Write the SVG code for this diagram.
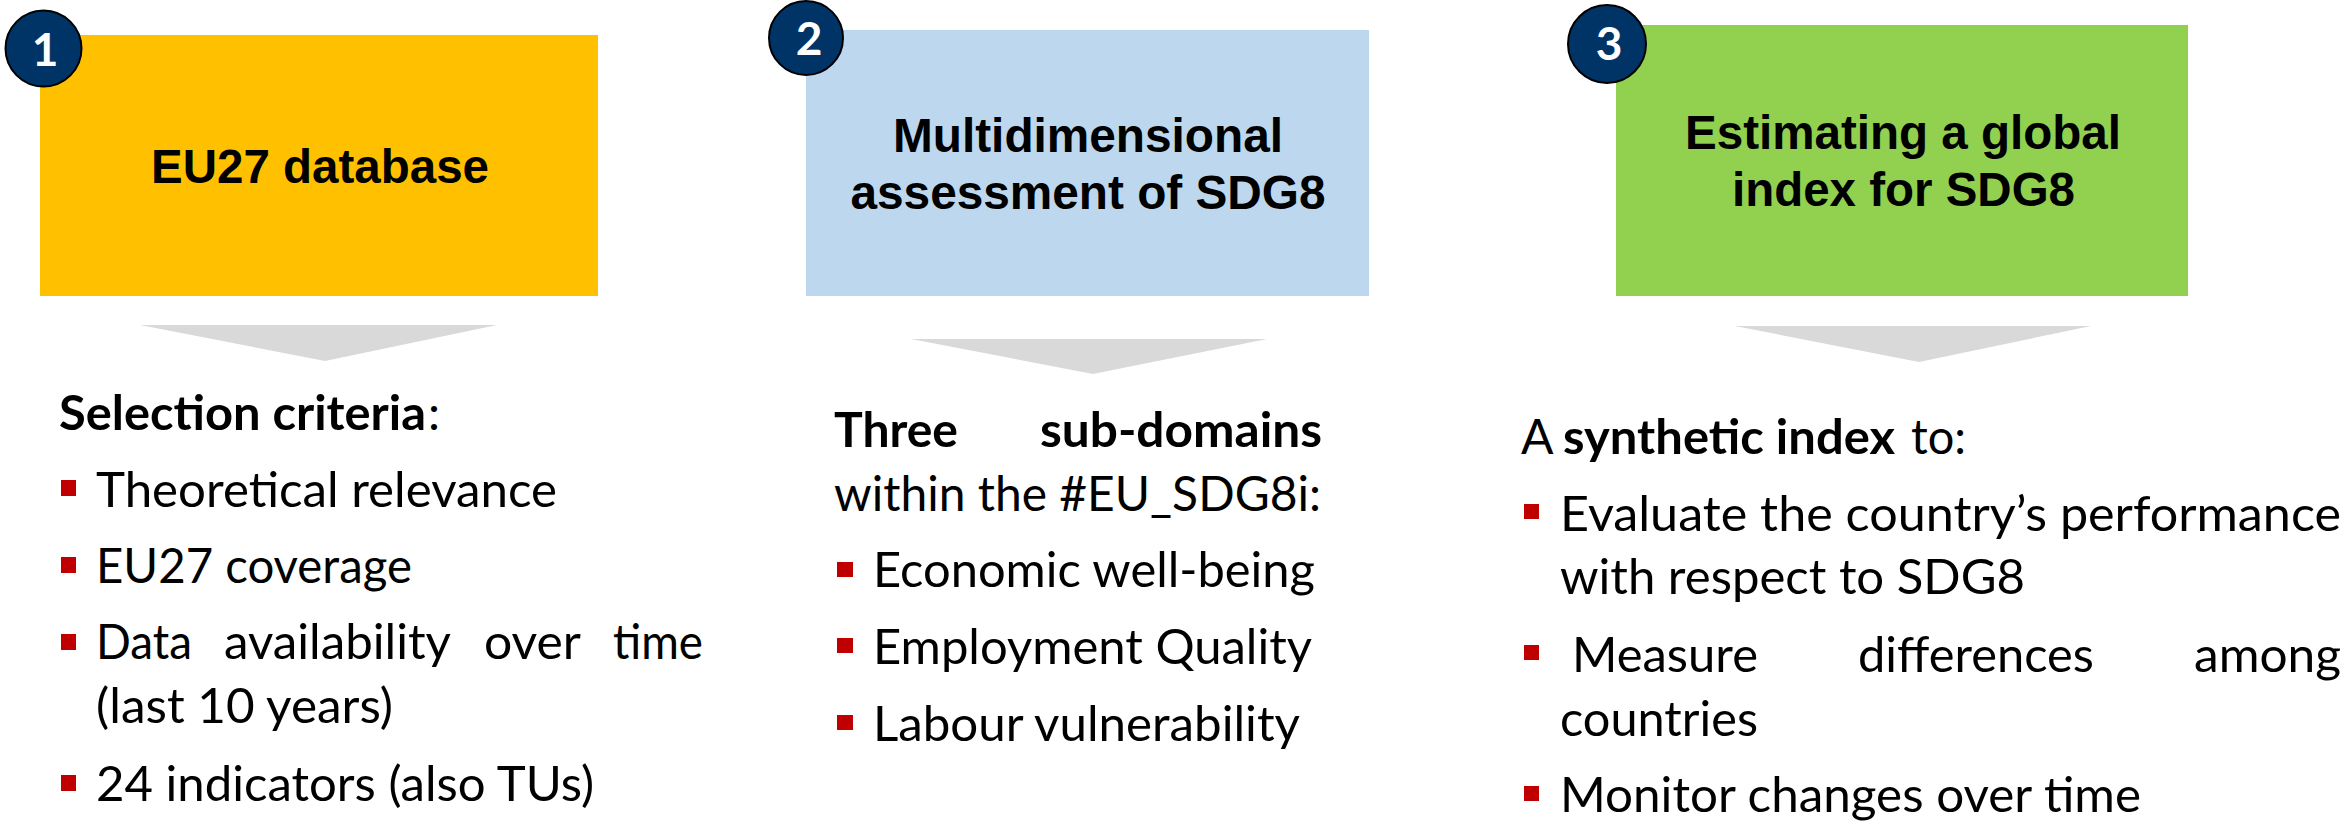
<svg xmlns="http://www.w3.org/2000/svg" width="2348" height="821" viewBox="0 0 2348 821">
  <style>
    .head { font-family: "Liberation Sans", Arial, sans-serif; font-weight: bold; font-size: 48px; fill: #000; text-anchor: middle; }
    .num { font-family: Lato, "Open Sans", sans-serif; font-weight: bold; font-size: 46px; fill: #fff; text-anchor: middle; }
    .badge { fill: #003366; stroke: #000; stroke-width: 2; }
    .body { font-family: Lato, "Open Sans", sans-serif; font-size: 48px; fill: #000; }
    .b { font-weight: bold; }
    .bullet { fill: #C00000; }
    .chev { fill: #D9D9D9; }
  </style>

  <!-- step 1 -->
  <g id="step1">
    <rect x="40" y="35" width="558" height="261" fill="#FFC000"/>
    <circle class="badge" cx="43.5" cy="48.5" r="38"/>
    <text class="num" x="45" y="66">1</text>
    <text class="head" x="320" y="183" textLength="338" lengthAdjust="spacingAndGlyphs">EU27 database</text>
  </g>

  <!-- step 2 -->
  <g id="step2">
    <rect x="806" y="30" width="563" height="266" fill="#BDD7EE"/>
    <circle class="badge" cx="806" cy="38" r="37"/>
    <text class="num" x="809" y="55">2</text>
    <text class="head" x="1088" y="152" textLength="390" lengthAdjust="spacingAndGlyphs">Multidimensional</text>
    <text class="head" x="1088" y="209" textLength="475" lengthAdjust="spacingAndGlyphs">assessment of SDG8</text>
  </g>

  <!-- step 3 -->
  <g id="step3">
    <rect x="1616" y="25" width="572" height="271" fill="#92D050"/>
    <circle class="badge" cx="1607" cy="44" r="39"/>
    <text class="num" x="1609" y="60">3</text>
    <text class="head" x="1903" y="149" textLength="436" lengthAdjust="spacingAndGlyphs">Estimating a global</text>
    <text class="head" x="1903.5" y="206" textLength="343" lengthAdjust="spacingAndGlyphs">index for SDG8</text>
  </g>

  <!-- downward chevrons from each box to its description -->
  <g id="connectors">
    <polygon class="chev" points="140,325 497,325 325,361"/>
    <polygon class="chev" points="911,339 1267,339 1093,374"/>
    <polygon class="chev" points="1735,326 2091,326 1919,362"/>
  </g>

  <!-- description 1 -->
  <g id="details1">
    <text class="body b" x="59" y="430" textLength="367" lengthAdjust="spacingAndGlyphs">Selection criteria</text>
    <text class="body" x="428" y="430">:</text>
    <rect class="bullet" x="61" y="480" width="15" height="16"/>
    <text class="body" x="96" y="507" textLength="461" lengthAdjust="spacingAndGlyphs">Theoretical relevance</text>
    <rect class="bullet" x="61" y="557" width="15" height="16"/>
    <text class="body" x="96" y="583" textLength="316" lengthAdjust="spacingAndGlyphs">EU27 coverage</text>
    <rect class="bullet" x="61" y="634" width="15" height="16"/>
    <text class="body" x="96" y="659" textLength="96" lengthAdjust="spacingAndGlyphs">Data</text>
    <text class="body" x="224" y="659" textLength="227" lengthAdjust="spacingAndGlyphs">availability</text>
    <text class="body" x="484" y="659" textLength="97" lengthAdjust="spacingAndGlyphs">over</text>
    <text class="body" x="613" y="659" textLength="90" lengthAdjust="spacingAndGlyphs">time</text>
    <text class="body" x="96" y="723" textLength="297" lengthAdjust="spacingAndGlyphs">(last 10 years)</text>
    <rect class="bullet" x="61" y="775" width="15" height="16"/>
    <text class="body" x="96" y="801" textLength="498" lengthAdjust="spacingAndGlyphs">24 indicators (also TUs)</text>
  </g>

  <!-- description 2 -->
  <g id="details2">
    <text class="body b" x="834" y="447" textLength="124" lengthAdjust="spacingAndGlyphs">Three</text>
    <text class="body b" x="1040" y="447" textLength="282" lengthAdjust="spacingAndGlyphs">sub-domains</text>
    <text class="body" x="834" y="511" textLength="487" lengthAdjust="spacingAndGlyphs">within the #EU_SDG8i:</text>
    <rect class="bullet" x="837" y="562" width="16" height="15"/>
    <text class="body" x="873" y="587" textLength="442" lengthAdjust="spacingAndGlyphs">Economic well-being</text>
    <rect class="bullet" x="837" y="638" width="16" height="15"/>
    <text class="body" x="873" y="664" textLength="439" lengthAdjust="spacingAndGlyphs">Employment Quality</text>
    <rect class="bullet" x="837" y="715" width="16" height="15"/>
    <text class="body" x="873" y="741" textLength="427" lengthAdjust="spacingAndGlyphs">Labour vulnerability</text>
  </g>

  <!-- description 3 -->
  <g id="details3">
    <text class="body" x="1521" y="454">A</text>
    <text class="body b" x="1563" y="454" textLength="332" lengthAdjust="spacingAndGlyphs">synthetic index</text>
    <text class="body" x="1911" y="454" textLength="55" lengthAdjust="spacingAndGlyphs">to:</text>
    <rect class="bullet" x="1524" y="504" width="15" height="15"/>
    <text class="body" x="1560" y="531" textLength="781" lengthAdjust="spacingAndGlyphs">Evaluate the country’s  performance</text>
    <text class="body" x="1560" y="594" textLength="465" lengthAdjust="spacingAndGlyphs">with respect to  SDG8</text>
    <rect class="bullet" x="1524" y="645" width="15" height="15"/>
    <text class="body" x="1572" y="672" textLength="186" lengthAdjust="spacingAndGlyphs">Measure</text>
    <text class="body" x="1858" y="672" textLength="236" lengthAdjust="spacingAndGlyphs">differences</text>
    <text class="body" x="2194" y="672" textLength="147" lengthAdjust="spacingAndGlyphs">among</text>
    <text class="body" x="1560" y="736" textLength="198" lengthAdjust="spacingAndGlyphs">countries</text>
    <rect class="bullet" x="1524" y="786" width="15" height="15"/>
    <text class="body" x="1560" y="812" textLength="581" lengthAdjust="spacingAndGlyphs">Monitor changes over time</text>
  </g>
</svg>
